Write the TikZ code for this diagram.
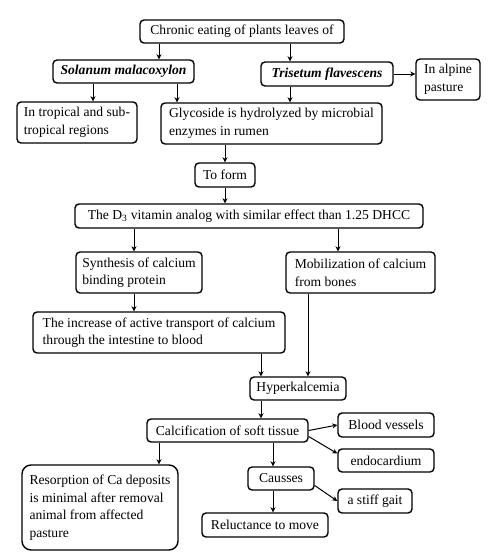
\documentclass[tikz,border=0pt]{standalone}
\usepackage{fontspec}
\setmainfont{Liberation Serif}
\usetikzlibrary{arrows.meta}

\begin{document}
\begin{tikzpicture}[x=1pt,y=-1pt,
  box/.style={draw, line width=1.4pt, rounded corners=4pt, inner xsep=3pt, inner ysep=2pt,
    align=left, font=\fontsize{13.6}{17.6}\selectfont},
  arr/.style={-{Stealth[length=5pt,width=5pt,inset=1.5pt]}, line width=1pt}]

\useasboundingbox (0,0) rectangle (496,558);

% Top of the chart
\node[box, minimum width=204pt, minimum height=23pt] (chronic) at (242,31.5) {Chronic eating of plants leaves of};
\node[box, minimum width=141pt, minimum height=23pt] (solanum) at (123.5,71.5) {\textbf{\textit{Solanum malacoxylon}}};
\node[box, minimum width=132pt, minimum height=24pt] (trisetum) at (327,74) {\textbf{\textit{Trisetum flavescens}}};
\node[box, minimum width=64pt, minimum height=41pt] (alpine) at (448,79.5) {In alpine\\pasture};
\node[box, minimum width=120pt, minimum height=41pt] (tropical) at (77,122.5) {In tropical and sub-\\tropical regions};
\node[box, minimum width=221pt, minimum height=41pt] (glyco) at (271.5,123.5) {Glycoside is hydrolyzed by microbial\\enzymes in rumen};
\node[box, minimum width=60pt, minimum height=24pt] (toform) at (225,175) {To form};

% Middle of the chart
\node[box, minimum width=348pt, minimum height=24pt] (dthree) at (249,216) {The D\textsubscript{3} vitamin analog with similar effect than 1.25 DHCC};
\node[box, minimum width=126pt, minimum height=41pt] (synth) at (139,272.5) {Synthesis of calcium\\binding protein};
\node[box, minimum width=149pt, minimum height=41pt] (mobil) at (360.5,272.5) {Mobilization of calcium\\from bones};
\node[box, minimum width=252pt, minimum height=41pt] (increase) at (159,332.5) {The increase of active transport of calcium\\through the intestine to blood};
\node[box, minimum width=96pt, minimum height=23pt] (hyper) at (298,388.5) {Hyperkalcemia};

% Bottom of the chart
\node[box, minimum width=161pt, minimum height=23pt] (calc) at (227.5,430.5) {Calcification of soft tissue};
\node[box, minimum width=96pt, minimum height=24pt] (blood) at (386,425) {Blood vessels};
\node[box, minimum width=96pt, minimum height=23pt] (endo) at (386,460.5) {endocardium};
\node[box, rounded corners=9pt, minimum width=156pt, minimum height=85pt] (resorp) at (100,507.5) {Resorption of Ca deposits\\is minimal after removal\\animal from affected\\pasture};
\node[box, minimum width=66pt, minimum height=23pt] (causses) at (281,478.5) {Causses};
\node[box, minimum width=74pt, minimum height=24pt] (stiff) at (375,501) {a stiff gait};
\node[box, minimum width=126pt, minimum height=24pt] (reluct) at (265,525) {Reluctance to move};

% Arrows, top
\draw[arr] (chronic.south -| 159,0) -- (solanum.north -| 159,0);
\draw[arr] (chronic.south -| 290,0) -- (trisetum.north -| 290,0);
\draw[arr] (trisetum.east) -- (alpine.west |- trisetum.east);
\draw[arr] (solanum.south -| 93,0) -- (tropical.north -| 93,0);
\draw[arr] (solanum.south -| 177,0) -- (glyco.north -| 177,0);
\draw[arr] (trisetum.south -| 290,0) -- (glyco.north -| 290,0);
\draw[arr] (glyco.south -| toform.north) -- (toform.north);
\draw[arr] (toform.south) -- (dthree.north -| toform.south);

% Arrows, middle
\draw[arr] (dthree.south -| 134,0) -- (synth.north -| 134,0);
\draw[arr] (dthree.south -| 338,0) -- (mobil.north -| 338,0);
\draw[arr] (synth.south -| 134,0) -- (increase.north -| 134,0);
\draw[arr] (increase.south -| 261,0) -- (hyper.north -| 261,0);
\draw[arr] (mobil.south -| 308,0) -- (hyper.north -| 308,0);

% Arrows, bottom
\draw[arr] (hyper.south -| 261,0) -- (calc.north -| 261,0);
\draw[arr] (calc.east) -- (blood.west);
\draw[arr] ([yshift=-6pt]calc.east) -- ([yshift=7pt]endo.west);
\draw[arr] (calc.south -| 159,0) -- (resorp.north -| 159,0);
\draw[arr] (calc.south -| 273,0) -- (causses.north -| 273,0);
\draw[arr] ([yshift=-7pt]causses.east) -- (stiff.west);
\draw[arr] (causses.south -| 273,0) -- (reluct.north -| 273,0);

\end{tikzpicture}
\end{document}
